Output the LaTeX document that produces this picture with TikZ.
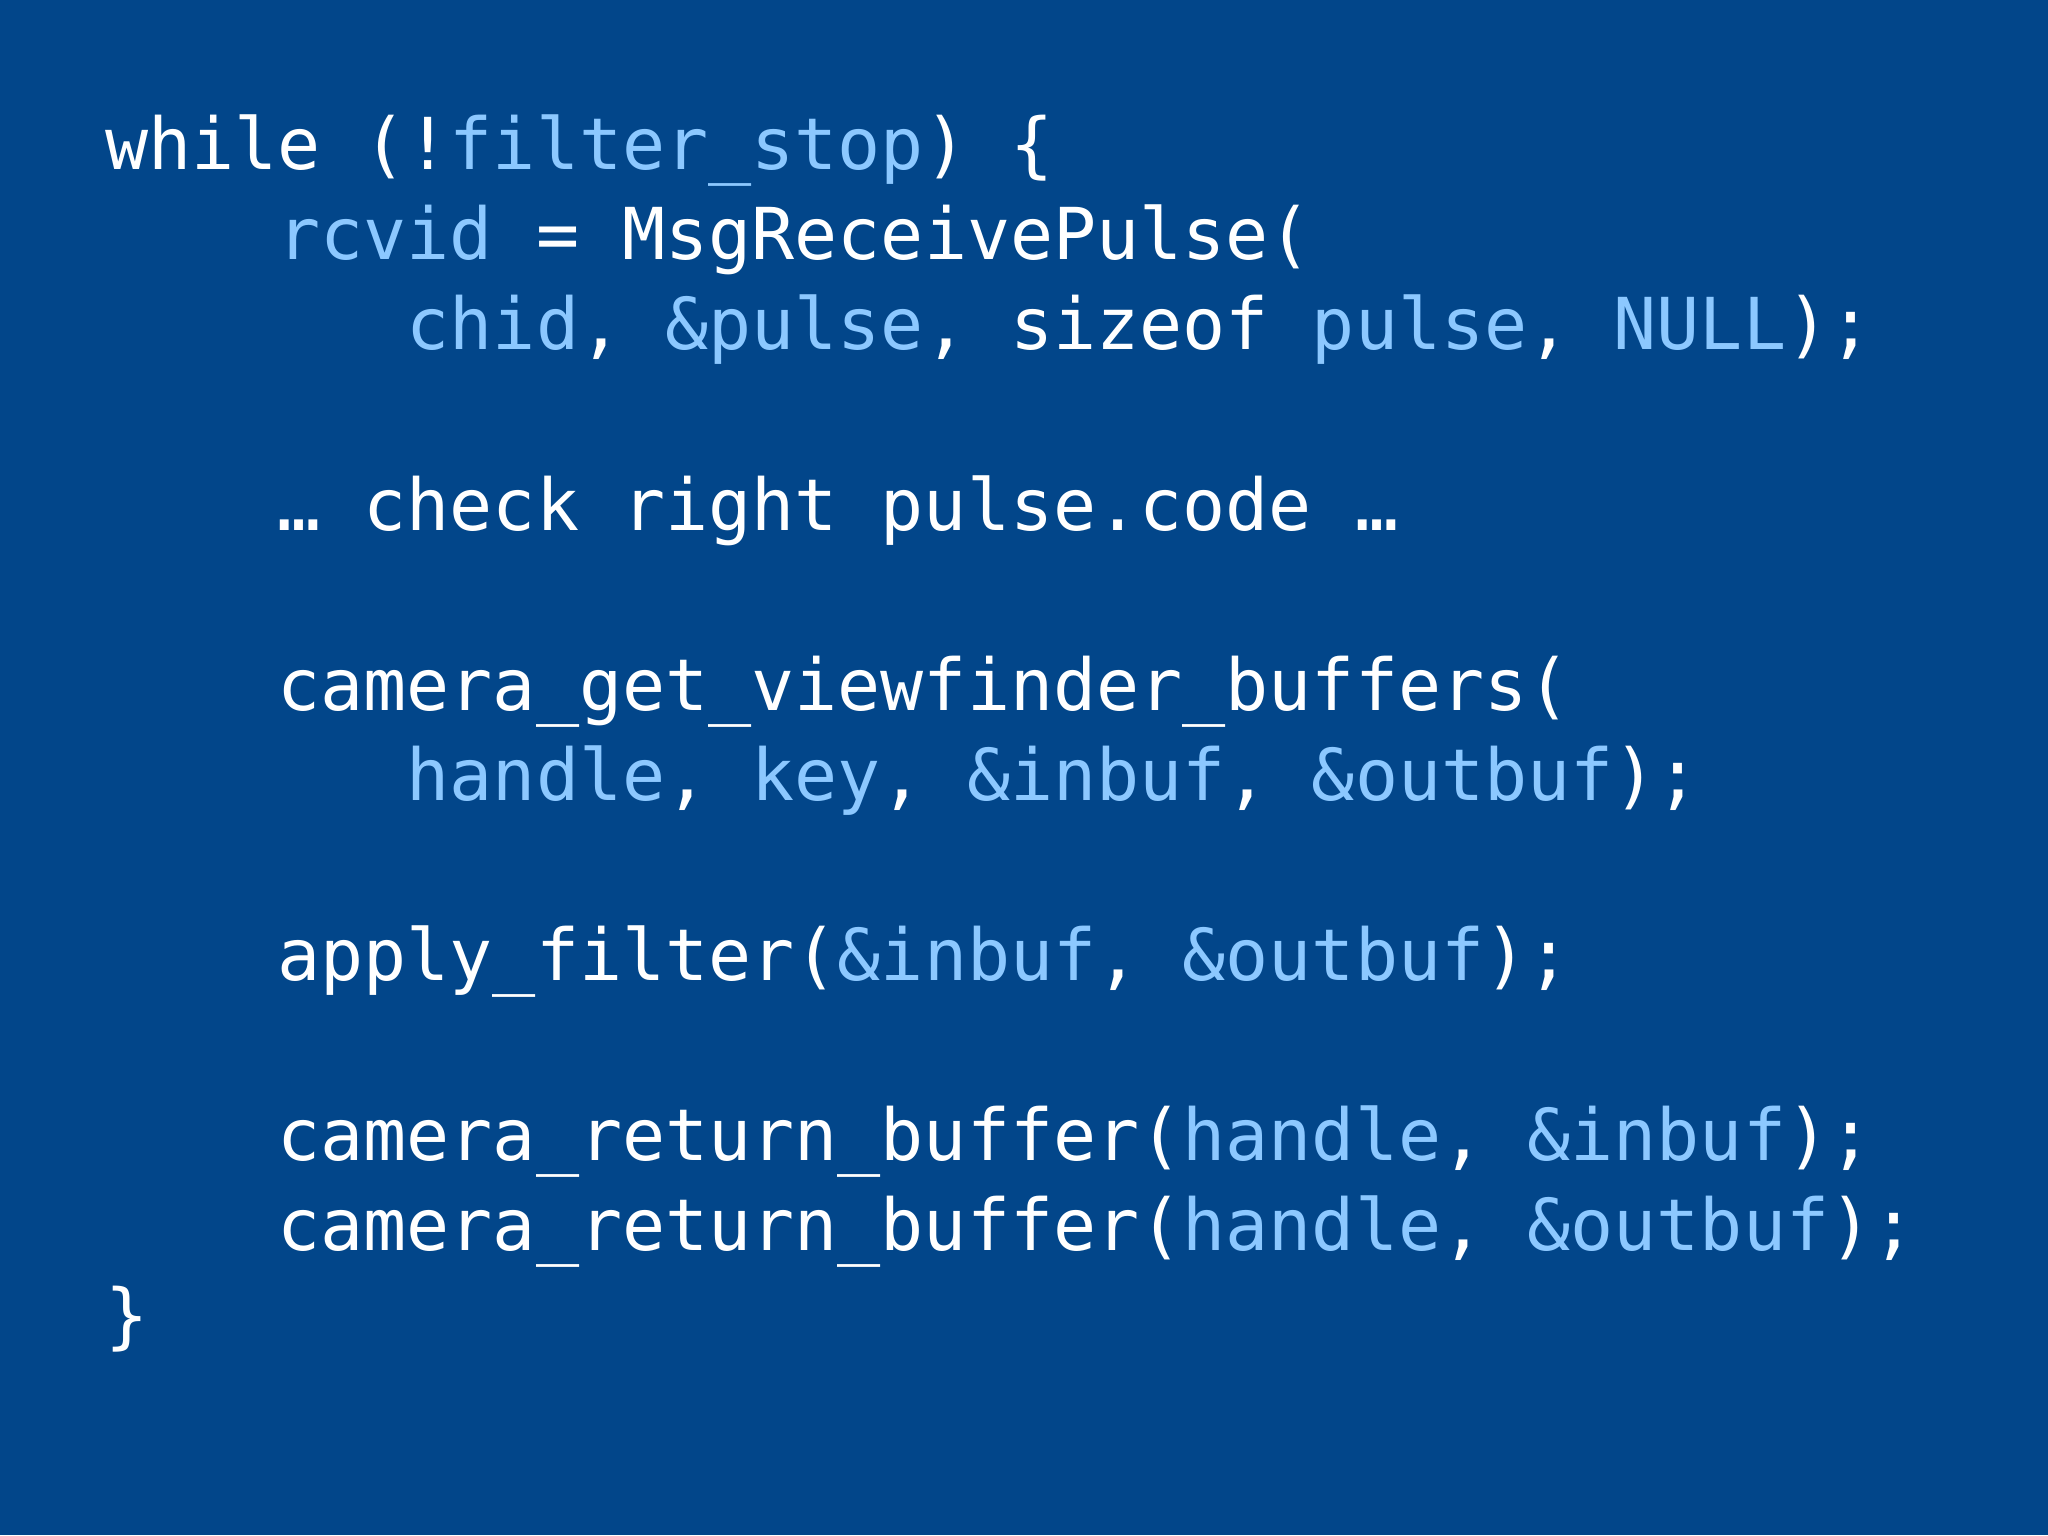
\documentclass[tikz,border=0pt]{standalone}
\usepackage{fontspec}
\setmonofont{DejaVu Sans Mono}
\definecolor{bg}{HTML}{02468A}
\definecolor{lb}{HTML}{8CC8FF}
\newcommand{\lb}[1]{\textcolor{lb}{#1}}
\begin{document}
\begin{tikzpicture}[x=1pt,y=1pt,
  codeline/.style={anchor=base west,inner sep=0pt,text=white,font=\fontsize{35.8}{40}\ttfamily}]
\fill[bg] (0,0) rectangle (1024,-767.5);
\useasboundingbox (0,0) rectangle (1024,-767.5);
\def\lx{52.3}
\node[codeline] (l0) at (\lx,-85-0*45) {while (!\lb{filter\_stop}) \{};
\node[codeline] (l1) at (\lx,-85-1*45) {\ \ \ \ \lb{rcvid} = MsgReceivePulse(};
\node[codeline] (l2) at (\lx,-85-2*45) {\ \ \ \ \ \ \ \lb{chid}, \lb{\&pulse}, sizeof \lb{pulse}, \lb{NULL});};
\node[codeline] (l4) at (\lx,-85-4*45) {\ \ \ \ … check right pulse.code …};
\node[codeline] (l6) at (\lx,-85-6*45) {\ \ \ \ camera\_get\_viewfinder\_buffers(};
\node[codeline] (l7) at (\lx,-85-7*45) {\ \ \ \ \ \ \ \lb{handle}, \lb{key}, \lb{\&inbuf}, \lb{\&outbuf});};
\node[codeline] (l9) at (\lx,-85-9*45) {\ \ \ \ apply\_filter(\lb{\&inbuf}, \lb{\&outbuf});};
\node[codeline] (l11) at (\lx,-85-11*45) {\ \ \ \ camera\_return\_buffer(\lb{handle}, \lb{\&inbuf});};
\node[codeline] (l12) at (\lx,-85-12*45) {\ \ \ \ camera\_return\_buffer(\lb{handle}, \lb{\&outbuf});};
\node[codeline] (l13) at (\lx,-85-13*45) {\}};
\end{tikzpicture}
\end{document}
